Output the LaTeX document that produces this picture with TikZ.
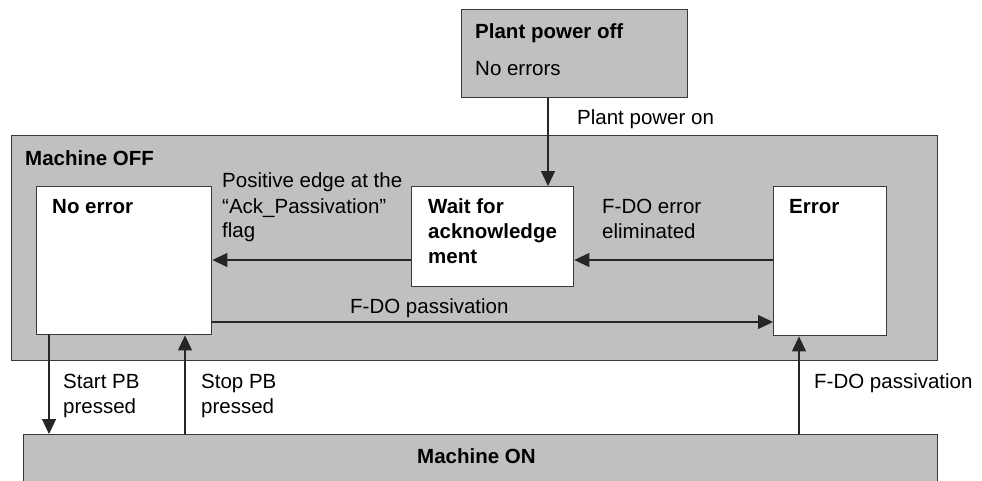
\documentclass[tikz,border=0pt]{standalone}
\usepackage{fontspec}
\setmainfont{Liberation Sans}
\usetikzlibrary{arrows.meta}
\definecolor{boxgray}{HTML}{C0C0C0}
\definecolor{edgecol}{HTML}{3A3A3A}
\begin{document}
\begin{tikzpicture}[x=1pt,y=-1pt,
  box/.style={draw=edgecol, line width=1.4pt, inner sep=0pt, anchor=north west},
  graybox/.style={box, fill=boxgray},
  whitebox/.style={box, fill=white},
  txt/.style={anchor=base west, inner sep=0pt, font=\fontsize{20.5}{25}\selectfont},
  btxt/.style={anchor=base west, inner sep=0pt, font=\fontsize{20.5}{25}\selectfont\bfseries},
  arr/.style={draw=black!85, line width=1.2pt, -{Triangle[length=15pt,width=14pt]}}
]
\clip (0,0) rectangle (982,480);
\fill[white] (0,0) rectangle (982,480);

% boxes
\node[graybox, minimum width=226pt, minimum height=88pt] (plant) at (461,9) {};
\node[graybox, minimum width=926pt, minimum height=225pt] (moff) at (11,135) {};
\node[whitebox, minimum width=175pt, minimum height=148pt] (noerr) at (36,186) {};
\node[whitebox, minimum width=162pt, minimum height=100pt] (wait) at (411,186) {};
\node[whitebox, minimum width=113pt, minimum height=149pt] (err) at (773,186) {};
\node[graybox, minimum width=914pt, minimum height=80pt] (mon) at (23,434) {};

% box texts
\node[btxt] (tplant) at (475,38) {Plant power off};
\node[txt] (tnoerrs) at (475,75) {No errors};
\node[btxt] (tmoff) at (25,165) {Machine OFF};
\node[btxt] (tnoerr) at (52,213) {No error};
\node[btxt] (tw1) at (428,213) {Wait for};
\node[btxt] (tw2) at (428,238) {acknowledge};
\node[btxt] (tw3) at (428,263) {ment};
\node[btxt] (terr) at (789,213) {Error};
\node[btxt] (tmon) at (417,463) {Machine ON};

% helper coordinates
\coordinate (x548) at (548,0);
\coordinate (x49) at (49,0);
\coordinate (x185) at (185,0);
\coordinate (x799) at (799,0);
\coordinate (y260) at (0,260);
\coordinate (y322) at (0,322);

% connectors
\draw[arr] (plant.south -| x548) -- (wait.north -| x548);
\draw[arr] (wait.west |- y260) -- (noerr.east |- y260);
\draw[arr] (err.west |- y260) -- (wait.east |- y260);
\draw[arr] (noerr.east |- y322) -- (err.west |- y322);
\draw[arr] (noerr.south -| x49) -- (mon.north -| x49);
\draw[arr] (mon.north -| x185) -- (noerr.south -| x185);
\draw[arr] (mon.north -| x799) -- (err.south -| x799);

% labels
\node[txt] (lpon) at (577,124) {Plant power on};
\node[txt] (lpe1) at (222,187) {Positive edge at the};
\node[txt] (lpe2) at (222,213) {“Ack\_Passivation”};
\node[txt] (lpe3) at (222,237) {flag};
\node[txt] (lfe1) at (602,213) {F-DO error};
\node[txt] (lfe2) at (602,238) {eliminated};
\node[txt] (lfp1) at (350,313) {F-DO passivation};
\node[txt] (lst1) at (63,388) {Start PB};
\node[txt] (lst2) at (63,413) {pressed};
\node[txt] (lsp1) at (201,388) {Stop PB};
\node[txt] (lsp2) at (201,413) {pressed};
\node[txt] (lfp2) at (814,388) {F-DO passivation};
\end{tikzpicture}
\end{document}
